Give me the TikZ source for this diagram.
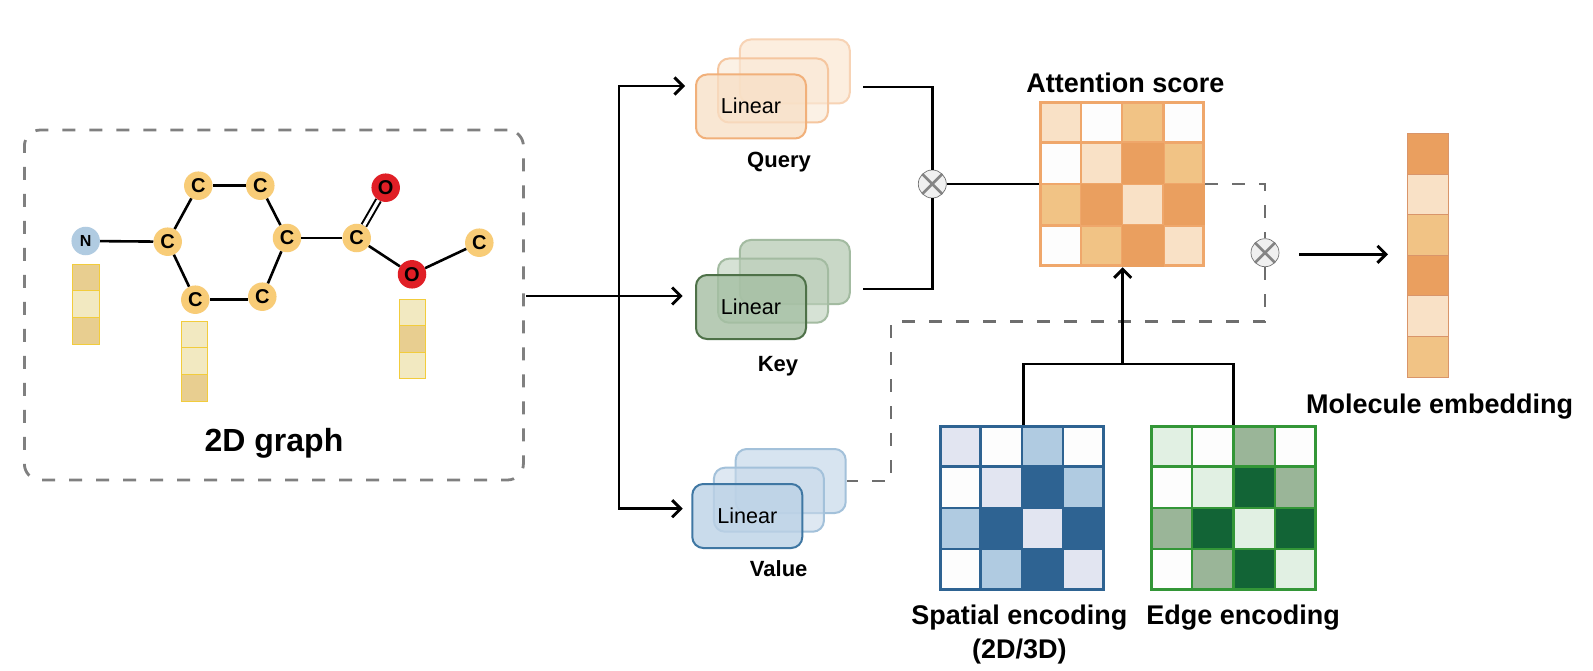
\documentclass[tikz,border=0pt]{standalone}
\usepackage{fontspec}
\setmainfont{Liberation Sans}
\usetikzlibrary{arrows.meta,calc}
\definecolor{attnD}{HTML}{EA9F5F}\definecolor{attnM}{HTML}{F1C385}\definecolor{attnL}{HTML}{F9E1C6}
\definecolor{attnB}{HTML}{EFA76B}
\definecolor{spatD}{HTML}{2E6392}\definecolor{spatM}{HTML}{B0CBE1}\definecolor{spatL}{HTML}{E2E5F1}
\definecolor{edgeD}{HTML}{126436}\definecolor{edgeM}{HTML}{9AB598}\definecolor{edgeL}{HTML}{E1F0E3}
\definecolor{edgeB}{HTML}{339637}
\definecolor{cellW}{HTML}{FDFDFD}
\definecolor{barB}{HTML}{D9956A}
\definecolor{vecB}{HTML}{F2CC3C}\definecolor{vecD}{HTML}{E8CE90}\definecolor{vecL}{HTML}{F2E9C1}
\definecolor{atomC}{HTML}{F8CC77}\definecolor{atomN}{HTML}{B0CBE1}\definecolor{atomO}{HTML}{E01F26}
\definecolor{dashA}{HTML}{808080}\definecolor{dashB}{HTML}{6E6E6E}
\definecolor{qfillA}{HTML}{FCEEDF}\definecolor{qfillB}{HTML}{F9E8D5}\definecolor{qfillC}{HTML}{F8DFC5}
\definecolor{kfillA}{HTML}{C9D8C7}\definecolor{kfillB}{HTML}{BCCFBA}\definecolor{kfillC}{HTML}{A5BFA3}
\definecolor{vfillA}{HTML}{D7E4F0}\definecolor{vfillB}{HTML}{C8D9EA}\definecolor{vfillC}{HTML}{BCD2E6}
\definecolor{kedge}{HTML}{A3BBA1}\definecolor{kedgeF}{HTML}{4E7148}
\definecolor{vedge}{HTML}{A3C1DA}\definecolor{vedgeF}{HTML}{3F77A3}
\tikzset{
  x=1pt,y=-1pt,
  atom/.style={circle,inner sep=0pt,minimum size=28.5pt,font=\fontsize{20}{22}\selectfont\bfseries},
  catom/.style={atom,fill=atomC},
  oatom/.style={atom,fill=atomO},
  natom/.style={atom,fill=atomN,font=\fontsize{16}{18}\selectfont\bfseries},
  bond/.style={line width=2.6pt,black},
  vec/.style={draw=vecB,line width=1pt,outer sep=0pt,minimum width=26.4pt,minimum height=26.6pt,inner sep=0pt},
  label big/.style={font=\fontsize{27}{32}\selectfont\bfseries,inner sep=0pt},
  label small/.style={font=\fontsize{22}{26}\selectfont\bfseries,inner sep=0pt},
  stackbox/.style={rounded corners=11pt,minimum width=110pt,minimum height=64pt,inner sep=0pt,line width=2pt,text opacity=1,
     font=\fontsize{21.6}{24}\selectfont},
  flow/.style={line width=2.9pt,black},
  flowa/.style={flow,-{Straight Barb[length=8.5pt,width=17pt,line width=2.9pt]}},
  dashbox/.style={draw=dashA,line width=2.8pt,dash pattern=on 13pt off 14pt,rounded corners=16pt},
  dashflow/.style={draw=dashB,line width=2.8pt,dash pattern=on 13pt off 14pt},
  otimes/.style={circle,draw=black!55,line width=.7pt,fill=black!6,minimum size=28pt,inner sep=0pt,
    path picture={\draw[line width=2.6pt,black!48] (path picture bounding box.north west)--(path picture bounding box.south east)
      (path picture bounding box.north east)--(path picture bounding box.south west);}},
  gridframe/.style={draw=#1,line width=3pt,minimum size=163.5pt,inner sep=0pt},
}
\newcommand{\heatgrid}[6]{%
  \foreach \cc/\rr/\kk in {0/0/#6,1/0/cellW,2/0/#5,3/0/cellW,
                           0/1/cellW,1/1/#6,2/1/#4,3/1/#5,
                           0/2/#5,1/2/#4,2/2/#6,3/2/#4,
                           0/3/cellW,1/3/#5,2/3/#4,3/3/#6}{
    \fill[\kk] ({#2-82.8+41.4*\cc},{#3-82.8+41.4*\rr}) rectangle ++(41.4,41.4);
  }
}
\newcommand{\gridlines}[3]{%
  \foreach \t in {1,2,3}{
    \draw[#1,line width=2.4pt] ({#2-82.8+41.4*\t},{#3-82.8})--++(0,165.6);
    \draw[#1,line width=2.4pt] ({#2-82.8},{#3-82.8+41.4*\t})--++(165.6,0);
  }
}
\begin{document}
\begin{tikzpicture}
\useasboundingbox (0,0) rectangle (1593,671);
\fill[white] (0,0) rectangle (1593,671);

% 2D graph box
\node[dashbox,minimum width=499pt,minimum height=350pt,inner sep=0pt] (graphbox) at (273.9,305) {};
\node[font=\fontsize{32}{36}\selectfont\bfseries,inner sep=0pt] (graphlabel) at (274,443) {2D graph};

% atoms
\node[natom] (n1) at (85.7,241) {N};
\node[catom] (c1) at (167.7,241.7) {C};
\node[catom] (c2) at (198.3,185.7) {C};
\node[catom] (c3) at (260.3,185.7) {C};
\node[catom] (c4) at (287,238) {C};
\node[catom] (c5) at (262.3,296.7) {C};
\node[catom] (c6) at (195.3,299.7) {C};
\node[catom] (c7) at (356.7,238) {C};
\node[oatom] (o1) at (385.7,187.7) {O};
\node[oatom] (o2) at (412,274.3) {O};
\node[catom] (c8) at (479.3,242.7) {C};
\draw[bond] (n1)--(c1);
\draw[bond] (c1)--(c2);
\draw[bond] (c2)--(c3);
\draw[bond] (c3)--(c4);
\draw[bond] (c4)--(c5);
\draw[bond] (c6.east)--(c6.east-|c5.west);
\draw[bond] (c6)--(c1);
\draw[bond] (c4)--(c7);
\draw[bond,double,double distance=3.2pt,line width=2pt] (c7)--(o1);
\draw[bond] (c7)--(o2);
\draw[bond] (o2)--(c8);

% feature vectors
\foreach \nm/\xx/\yy/\ca/\cb/\cc in {a/85.9/264.3/vecD/vecL/vecD,b/194.5/321.3/vecL/vecL/vecD,c/412.5/299/vecL/vecD/vecL}{
  \node[vec,fill=\ca,anchor=north] (v\nm1) at (\xx,\yy) {};
  \node[vec,fill=\cb,anchor=north] (v\nm2) at (v\nm1.south) {};
  \node[vec,fill=\cc,anchor=north] (v\nm3) at (v\nm2.south) {};
}

% Stacks
\node[stackbox,draw=attnB!50!white,fill=qfillA] (qback) at (794.8,71.5) {};
\node[stackbox,draw=attnB!65!white,fill=qfillB,fill opacity=.6] (qmid) at (773,90.5) {};
\node[stackbox,draw=attnB!90!white,fill=qfillC,fill opacity=.75] (qfront) at (751,106.5) {\raisebox{1pt}{Linear}};
\node[stackbox,draw=kedge,fill=kfillA] (kback) at (794.8,272) {};
\node[stackbox,draw=kedge,fill=kfillB,fill opacity=.6] (kmid) at (773,290.7) {};
\node[stackbox,draw=kedgeF,fill=kfillC,fill opacity=.8] (kfront) at (751,307) {\raisebox{1pt}{Linear}};
\node[stackbox,draw=vedge,fill=vfillA] (vback) at (790.7,481) {};
\node[stackbox,draw=vedge,fill=vfillB,fill opacity=.6] (vmid) at (768.9,499.7) {};
\node[stackbox,draw=vedgeF,fill=vfillC,fill opacity=.8] (vfront) at (747.3,516) {\raisebox{1pt}{Linear}};
\node[label small] (qlabel) at (779,162.5) {Query};
\node[label small] (klabel) at (778,366) {Key};
\node[label small] (vlabel) at (778.7,568.5) {Value};

% Input fan-out
\coordinate (fan) at (619,296);
\coordinate (fanstart) at (526,296);
\coordinate (qin) at (685,86);
\coordinate (kin) at (682.7,296);
\coordinate (vin) at (682.7,508.7);
\draw[flowa] (fanstart)--(kin);
\draw[flowa] (fan)|-(qin);
\draw[flowa] (fan)|-(vin);

% Attention grid
\heatgrid{attn}{1122.2}{184}{attnD}{attnM}{attnL}
\gridlines{attnB}{1122.2}{184}
\node[gridframe=attnB] (attn) at (1122.2,184) {};
\node[label big] (attnlabel) at (1125.3,82.5) {Attention score};
\foreach \cc/\rr in {2/1,1/2,3/2,2/3}{
  \fill[attnD] ({1122.2-82.8+41.4*\cc},{184-82.8+41.4*\rr}) rectangle ++(41.4,41.4);
}

% Spatial grid
\heatgrid{spat}{1021.8}{507.8}{spatD}{spatM}{spatL}
\gridlines{spatD}{1021.8}{507.8}
\node[gridframe=spatD] (spat) at (1021.8,507.8) {};
% Edge grid
\heatgrid{edge}{1233.4}{507.8}{edgeD}{edgeM}{edgeL}
\gridlines{edgeB}{1233.4}{507.8}
\node[gridframe=edgeB] (edge) at (1233.4,507.8) {};
\node[label big] (spatlabel) at (1019.3,618) {Spatial encoding};
\node[label big] (spatlabelb) at (1019.3,652) {(2D/3D)};
\node[label big] (edgelabel) at (1243,618) {Edge encoding};

% Otimes
\node[otimes] (ot1) at (932.3,184) {};
\node[otimes] (ot2) at (1265,252.7) {};

% Query + Key to otimes
\coordinate (qout) at (863.3,87);
\coordinate (kout) at (863.3,289);
\draw[flow] (qout)-|(ot1.north);
\draw[flow] (kout)-|(ot1.south);
\draw[flow] (ot1.east)--(attn.west);

% Dashed value line
\coordinate (dturn) at (891,321.7);
\draw[dashflow] (attn.east)-|(ot2.north);
\draw[dashflow] (ot2.south)|-(dturn)|-(vback.east);

% encodings to attention
\coordinate (join) at (1122.7,364);
\draw[flow] (spat.north-|1023.7,0)--(1023.7,364)--(1233.7,364)--(edge.north-|1233.7,0);
\draw[flowa] (join)--(join|-attn.south);

% Molecule embedding
\foreach \i/\kk in {0/attnD,1/attnL,2/attnM,3/attnD,4/attnL,5/attnM}{
  \node[draw=barB,line width=1pt,outer sep=0pt,fill=\kk,minimum width=41pt,minimum height=40.6pt,inner sep=0pt,anchor=north] (bar\i) at (1428,{133.5+40.6*\i}) {};
}
\coordinate (otout) at (1299.3,254.3);
\coordinate (barin) at (1388,254.3);
\draw[flowa] (otout)--(barin);
\node[label big] (barlabel) at (1439.7,407) {Molecule embedding};
\end{tikzpicture}
\end{document}
